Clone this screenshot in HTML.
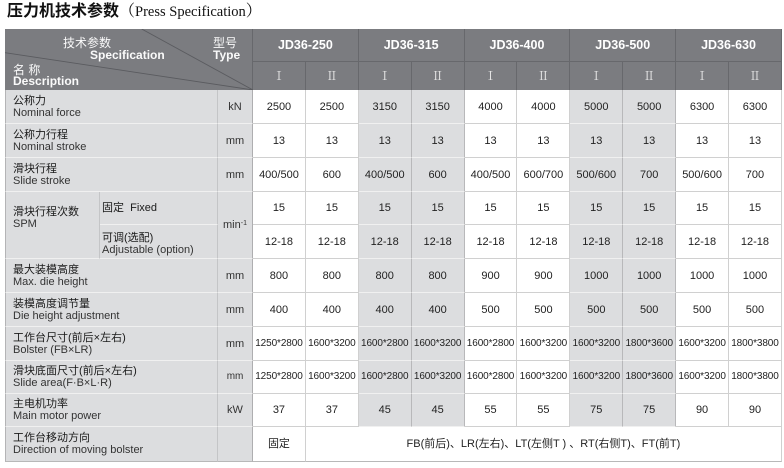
<!DOCTYPE html>
<html><head><meta charset="utf-8">
<style>
*{margin:0;padding:0;box-sizing:border-box}
html,body{width:784px;height:468px;background:#fff;overflow:hidden}
body{position:relative;font-family:"Liberation Sans","Noto Sans CJK SC",sans-serif;color:#222}
.title{position:absolute;left:7px;top:0;line-height:20px;font-size:16px;font-weight:bold;color:#111;white-space:nowrap;font-family:"Liberation Sans","Noto Sans CJK SC",sans-serif}
.title .en{font-family:"Liberation Serif","Noto Serif CJK SC",serif;font-weight:normal;font-size:14.5px}
.title .p{font-family:"Noto Serif CJK SC",serif;font-weight:normal}
.g{position:absolute;left:5px;top:29px;display:grid;
grid-template-columns:95px 118px 35px repeat(10,52.9px);
grid-template-rows:32.5px 28.5px 34px 34px 34px 33px 34px 34px 34px 34px 33px 33px 35px}
.g>div{display:flex;align-items:center;justify-content:center;font-size:11px;white-space:nowrap;line-height:12px}
.diag{grid-column:1/4;grid-row:1/3;background:#7b7c80;border-right:1px solid #67686c;position:relative;display:block!important;color:#fafafa}
.diag svg{position:absolute;left:0;top:0}
.diag span{position:absolute;line-height:14px;font-size:12px;font-weight:bold;white-space:nowrap}
.diag .cn{font-weight:normal;font-size:12px}
.hm{grid-column:span 2;background:#7b7c80;border-right:1px solid #67686c;border-bottom:1px solid #67686c;color:#fff;font-weight:bold;font-size:12.5px!important}
.hr{background:#7b7c80;border-right:1px solid #67686c;color:#e4e4e4;font-family:"Liberation Serif","Noto Serif CJK SC",serif;font-size:12px!important}
.l{grid-column:span 2;background:#dcdddf;border-left:1px solid #b4b4b6;border-right:1px solid #c4c5c7;border-bottom:1px solid #f0f0f0;flex-direction:column;align-items:flex-start!important;padding-left:7px}
.l1{background:#dcdddf;border-left:1px solid #b4b4b6;border-right:1px solid #c4c5c7;border-bottom:1px solid #f0f0f0;flex-direction:column;align-items:flex-start!important;justify-content:flex-start!important;padding-left:7px;padding-top:13.5px;grid-row:span 2}
.l2{background:#dcdddf;border-right:1px solid #c4c5c7;border-bottom:1px solid #f0f0f0;flex-direction:column;align-items:flex-start!important;padding-left:2px}
.l .c,.l1 .c,.l2 .c{color:#1a1a1a}
.l .e,.l1 .e,.l2 .e{color:#333}
.u{background:#dcdddf;border-right:1px solid #aeaeb0;border-bottom:1px solid #f0f0f0;color:#333}
.w{background:#fff;border-right:1px solid #d0d0d0;border-bottom:1px solid #d0d0d0}
.s{background:#dcdddf;border-right:1px solid #b8b8ba;border-bottom:1px solid #f0f0f0}
.sm{font-size:10px!important;letter-spacing:-0.1px}
.last>div,.lastrow{border-bottom:1px solid #b8b8b8!important}
sup{font-size:7px;line-height:0;position:relative;top:-1px}
</style></head><body>
<div class="title">压力机技术参数<span class="p">（</span><span class="en">Press Specification</span><span class="p">）</span></div>
<div class="g">
<div class="diag">
<svg width="248" height="61"><line x1="136.7" y1="0" x2="248" y2="61" stroke="#5a5b5f" stroke-width="0.9"/><line x1="0" y1="23.7" x2="248" y2="61" stroke="#5a5b5f" stroke-width="0.9"/></svg>
<span class="cn" style="left:58px;top:6.5px">技术参数</span>
<span style="left:85px;top:19px">Specification</span>
<span class="cn" style="left:208px;top:6.5px">型号</span>
<span style="left:208px;top:19px">Type</span>
<span class="cn" style="left:8px;top:34px">名 称</span>
<span style="left:8px;top:45px">Description</span>
</div>
<div class="hm">JD36-250</div><div class="hm">JD36-315</div><div class="hm">JD36-400</div><div class="hm">JD36-500</div><div class="hm">JD36-630</div>
<div class="hr">Ⅰ</div><div class="hr">Ⅱ</div><div class="hr">Ⅰ</div><div class="hr">Ⅱ</div><div class="hr">Ⅰ</div><div class="hr">Ⅱ</div><div class="hr">Ⅰ</div><div class="hr">Ⅱ</div><div class="hr">Ⅰ</div><div class="hr">Ⅱ</div>

<div class="l"><span class="c">公称力</span><span class="e">Nominal force</span></div><div class="u">kN</div>
<div class="w">2500</div><div class="w">2500</div><div class="s">3150</div><div class="s">3150</div><div class="w">4000</div><div class="w">4000</div><div class="s">5000</div><div class="s">5000</div><div class="w">6300</div><div class="w">6300</div>

<div class="l"><span class="c">公称力行程</span><span class="e">Nominal stroke</span></div><div class="u">mm</div>
<div class="w">13</div><div class="w">13</div><div class="s">13</div><div class="s">13</div><div class="w">13</div><div class="w">13</div><div class="s">13</div><div class="s">13</div><div class="w">13</div><div class="w">13</div>

<div class="l"><span class="c">滑块行程</span><span class="e">Slide stroke</span></div><div class="u">mm</div>
<div class="w">400/500</div><div class="w">600</div><div class="s">400/500</div><div class="s">600</div><div class="w">400/500</div><div class="w">600/700</div><div class="s">500/600</div><div class="s">700</div><div class="w">500/600</div><div class="w">700</div>

<div class="l1"><span class="c">滑块行程次数</span><span class="e">SPM</span></div>
<div class="l2"><span class="c">固定&nbsp; Fixed</span></div>
<div class="u" style="grid-row:span 2">min<sup>-1</sup></div>
<div class="w">15</div><div class="w">15</div><div class="s">15</div><div class="s">15</div><div class="w">15</div><div class="w">15</div><div class="s">15</div><div class="s">15</div><div class="w">15</div><div class="w">15</div>
<div class="l2" style="padding-top:4px"><span class="c">可调(选配)</span><span class="e">Adjustable (option)</span></div>
<div class="w">12-18</div><div class="w">12-18</div><div class="s">12-18</div><div class="s">12-18</div><div class="w">12-18</div><div class="w">12-18</div><div class="s">12-18</div><div class="s">12-18</div><div class="w">12-18</div><div class="w">12-18</div>

<div class="l"><span class="c">最大装模高度</span><span class="e">Max. die height</span></div><div class="u">mm</div>
<div class="w">800</div><div class="w">800</div><div class="s">800</div><div class="s">800</div><div class="w">900</div><div class="w">900</div><div class="s">1000</div><div class="s">1000</div><div class="w">1000</div><div class="w">1000</div>

<div class="l"><span class="c">装模高度调节量</span><span class="e">Die height adjustment</span></div><div class="u">mm</div>
<div class="w">400</div><div class="w">400</div><div class="s">400</div><div class="s">400</div><div class="w">500</div><div class="w">500</div><div class="s">500</div><div class="s">500</div><div class="w">500</div><div class="w">500</div>

<div class="l"><span class="c">工作台尺寸(前后×左右)</span><span class="e">Bolster (FB×LR)</span></div><div class="u">mm</div>
<div class="w sm">1250*2800</div><div class="w sm">1600*3200</div><div class="s sm">1600*2800</div><div class="s sm">1600*3200</div><div class="w sm">1600*2800</div><div class="w sm">1600*3200</div><div class="s sm">1600*3200</div><div class="s sm">1800*3600</div><div class="w sm">1600*3200</div><div class="w sm">1800*3800</div>

<div class="l"><span class="c">滑块底面尺寸(前后×左右)</span><span class="e">Slide area(F·B×L·R)</span></div><div class="u sm">mm</div>
<div class="w sm">1250*2800</div><div class="w sm">1600*3200</div><div class="s sm">1600*2800</div><div class="s sm">1600*3200</div><div class="w sm">1600*2800</div><div class="w sm">1600*3200</div><div class="s sm">1600*3200</div><div class="s sm">1800*3600</div><div class="w sm">1600*3200</div><div class="w sm">1800*3800</div>

<div class="l"><span class="c">主电机功率</span><span class="e">Main motor power</span></div><div class="u">kW</div>
<div class="w">37</div><div class="w">37</div><div class="s">45</div><div class="s">45</div><div class="w">55</div><div class="w">55</div><div class="s">75</div><div class="s">75</div><div class="w">90</div><div class="w">90</div>

<div class="l lastrow"><span class="c">工作台移动方向</span><span class="e">Direction of moving bolster</span></div><div class="u lastrow"></div>
<div class="w lastrow">固定</div>
<div class="w lastrow" style="grid-column:span 9">FB(前后)、LR(左右)、LT(左侧T ) 、RT(右侧T)、FT(前T)</div>
</div>
</body></html>
